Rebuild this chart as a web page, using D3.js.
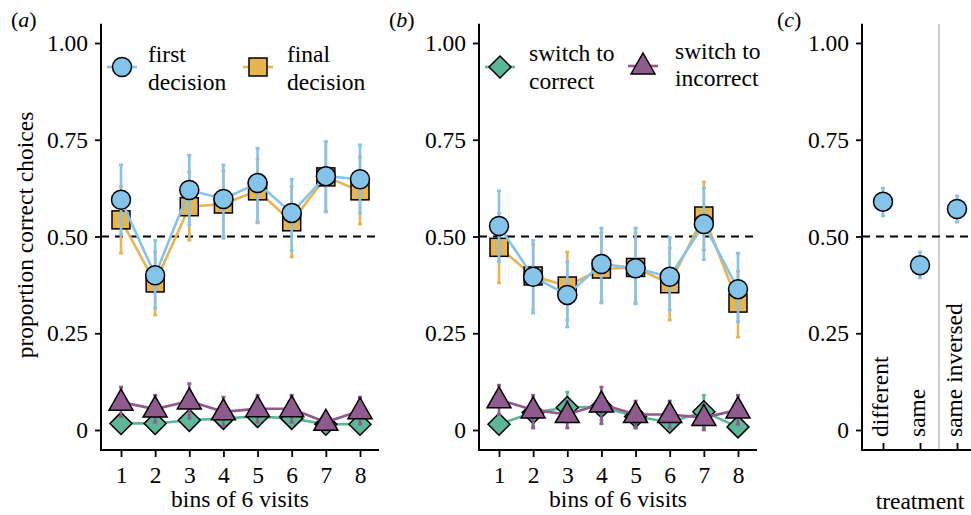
<!DOCTYPE html>
<html><head><meta charset="utf-8">
<script src="https://cdn.jsdelivr.net/npm/d3@7"></script>
<style>body{margin:0;background:#fff}svg{display:block}</style>
</head><body>
<svg id="chart" width="971" height="515"></svg>
<script>
// ---------- data ----------
const bins = [1,2,3,4,5,6,7,8];
const yTicks = [0,0.25,0.5,0.75,1];
const yTickLabels = ["0","0.25","0.50","0.75","1.00"];

const aFirst   = [0.595,0.400,0.620,0.597,0.638,0.561,0.656,0.648];
const aFirstLo = [0.505,0.315,0.530,0.495,0.538,0.463,0.565,0.560];
const aFirstHi = [0.685,0.490,0.710,0.685,0.728,0.648,0.745,0.737];
const aFinal   = [0.543,0.380,0.577,0.584,0.618,0.538,0.654,0.618];
const aFinalLo = [0.457,0.297,0.490,0.500,0.535,0.447,0.563,0.532];
const aFinalHi = [0.630,0.460,0.667,0.670,0.700,0.630,0.745,0.705];
const aToCorrect   = [0.017,0.017,0.025,0.030,0.035,0.030,0.015,0.015];
const aToCorrectLo = [0.000,0.000,0.005,0.010,0.010,0.010,0.000,0.000];
const aToCorrectHi = [0.035,0.035,0.045,0.050,0.060,0.050,0.030,0.030];
const aToIncorrect   = [0.072,0.054,0.075,0.047,0.055,0.055,0.020,0.050];
const aToIncorrectLo = [0.035,0.020,0.030,0.010,0.020,0.020,0.000,0.015];
const aToIncorrectHi = [0.111,0.090,0.120,0.085,0.090,0.090,0.040,0.085];

const bFirst   = [0.527,0.396,0.349,0.429,0.418,0.396,0.532,0.364];
const bFirstLo = [0.435,0.302,0.266,0.331,0.326,0.310,0.440,0.280];
const bFirstHi = [0.618,0.490,0.435,0.522,0.522,0.498,0.626,0.457];
const bFinal   = [0.472,0.398,0.372,0.416,0.420,0.378,0.553,0.328];
const bFinalLo = [0.380,0.310,0.284,0.328,0.330,0.284,0.465,0.240];
const bFinalHi = [0.560,0.480,0.460,0.510,0.510,0.470,0.641,0.410];
const bToCorrect   = [0.015,0.045,0.058,0.060,0.035,0.020,0.047,0.008];
const bToCorrectLo = [0.000,0.010,0.020,0.025,0.005,0.000,0.005,0.000];
const bToCorrectHi = [0.035,0.080,0.098,0.095,0.065,0.040,0.090,0.025];
const bToIncorrect   = [0.078,0.052,0.040,0.067,0.040,0.040,0.032,0.052];
const bToIncorrectLo = [0.040,0.005,0.005,0.016,0.005,0.005,0.000,0.015];
const bToIncorrectHi = [0.116,0.090,0.075,0.111,0.075,0.075,0.065,0.090];

const treatments = ["different","same","same inversed"];
const cMean = [0.590,0.426,0.571];
const cLo   = [0.553,0.393,0.537];
const cHi   = [0.625,0.460,0.605];

// ---------- styles ----------
const COL = {blue:"#85C4EA", orange:"#E8B450", green:"#5BB795", purple:"#8F5A8E"};
const FS = 23.5;

const svg = d3.select("#chart");
const y = d3.scaleLinear().domain([0,1]).range([430,43]);
const yTop = y(1.05), yBot = 450;

function txt(sel){ return sel.style("font-family",'"Liberation Serif"').style("font-size",FS+"px").attr("fill","#000"); }

function drawYAxis(x0){
  const g = svg.append("g").attr("transform",`translate(${x0},0)`);
  const ax = d3.axisLeft(y).tickValues(yTicks).tickFormat((d,i)=>yTickLabels[i]).tickSize(6).tickPadding(7);
  g.call(ax).attr("font-family",null).attr("font-size",null);
  g.select(".domain").remove();
  g.selectAll(".tick line").attr("stroke","#000").attr("stroke-width",1.8);
  txt(g.selectAll(".tick text"));
  g.append("line").attr("x1",0).attr("x2",0).attr("y1",yTop).attr("y2",yBot+1).attr("stroke","#000").attr("stroke-width",2);
}

function marker(sel, shape, color){
  if(shape==="circle"){
    sel.append("circle").attr("r",9.5).attr("fill",color).attr("stroke","#000").attr("stroke-width",1.5);
  } else if(shape==="square"){
    sel.append("rect").attr("x",-9).attr("y",-9).attr("width",18).attr("height",18).attr("fill",color).attr("stroke","#000").attr("stroke-width",1.5);
  } else if(shape==="diamond"){
    sel.append("path").attr("d","M0,-11L11,0L0,11L-11,0Z").attr("fill",color).attr("stroke","#000").attr("stroke-width",1.5);
  } else {
    sel.append("path").attr("d","M0,-13L12,8L-12,8Z").attr("fill",color).attr("stroke","#000").attr("stroke-width",1.5);
  }
}

function errBar(g, xp, lo, hi, color){
  g.append("line").attr("x1",xp).attr("x2",xp).attr("y1",y(lo)).attr("y2",y(hi))
    .attr("stroke",color).attr("stroke-width",2.6);
  [lo,hi].forEach(v=>g.append("line").attr("x1",xp-2).attr("x2",xp+2).attr("y1",y(v)).attr("y2",y(v))
    .attr("stroke",color).attr("stroke-width",2.6));
}

function drawSeries(x, xs, mean, lo, hi, color, shape){
  const g = svg.append("g");
  xs.forEach((b,i)=> errBar(g, x(b), lo[i], hi[i], color));
  const line = d3.line().x((d,i)=>x(xs[i])).y(d=>y(d));
  g.append("path").attr("d",line(mean)).attr("fill","none").attr("stroke",color).attr("stroke-width",2.6);
  xs.forEach((b,i)=>{
    const m = g.append("g").attr("transform",`translate(${x(b)},${y(mean[i])})`);
    marker(m, shape, color);
  });
}

function legendItem(x, yy, shape, color, lines, textX, y1, y2){
  const g = svg.append("g");
  g.append("line").attr("x1",x-15).attr("x2",x+15).attr("y1",yy).attr("y2",yy).attr("stroke",color).attr("stroke-width",2.6);
  const m = g.append("g").attr("transform",`translate(${x},${yy})`);
  marker(m, shape, color);
  txt(g.append("text").attr("x",textX).attr("y",y1).text(lines[0]));
  txt(g.append("text").attr("x",textX).attr("y",y2).text(lines[1]));
}

function binPanel(x0, xEnd, firstX, lastX, data, xTitleX){
  const x = d3.scaleLinear().domain([1,8]).range([firstX,lastX]);
  svg.append("line").attr("x1",x0).attr("x2",xEnd).attr("y1",y(0.5)).attr("y2",y(0.5))
    .attr("stroke","#000").attr("stroke-width",2).attr("stroke-dasharray","8,6");
  drawYAxis(x0);
  const gx = svg.append("g").attr("transform",`translate(0,${yBot})`);
  gx.call(d3.axisBottom(x).tickValues(bins).tickFormat(d3.format("d")).tickSize(7).tickPadding(9));
  gx.attr("font-family",null).attr("font-size",null);
  gx.select(".domain").remove();
  gx.selectAll(".tick line").attr("stroke","#000").attr("stroke-width",1.8);
  txt(gx.selectAll(".tick text"));
  svg.append("line").attr("x1",x0-1).attr("x2",xEnd).attr("y1",yBot).attr("y2",yBot).attr("stroke","#000").attr("stroke-width",2);
  txt(svg.append("text").attr("x",xTitleX).attr("y",507).attr("text-anchor","middle").text("bins of 6 visits"));
  drawSeries(x, bins, data.toC, data.toCLo, data.toCHi, COL.green, "diamond");
  drawSeries(x, bins, data.toI, data.toILo, data.toIHi, COL.purple, "triangle");
  drawSeries(x, bins, data.fin, data.finLo, data.finHi, COL.orange, "square");
  drawSeries(x, bins, data.first, data.firstLo, data.firstHi, COL.blue, "circle");
}

binPanel(101, 379, 121, 360, {
  first:aFirst, firstLo:aFirstLo, firstHi:aFirstHi,
  fin:aFinal, finLo:aFinalLo, finHi:aFinalHi,
  toC:aToCorrect, toCLo:aToCorrectLo, toCHi:aToCorrectHi,
  toI:aToIncorrect, toILo:aToIncorrectLo, toIHi:aToIncorrectHi
}, 240);

binPanel(479, 757, 499, 738, {
  first:bFirst, firstLo:bFirstLo, firstHi:bFirstHi,
  fin:bFinal, finLo:bFinalLo, finHi:bFinalHi,
  toC:bToCorrect, toCLo:bToCorrectLo, toCHi:bToCorrectHi,
  toI:bToIncorrect, toILo:bToIncorrectLo, toIHi:bToIncorrectHi
}, 618);

legendItem(122, 67, "circle", COL.blue, ["first","decision"], 148, 62, 90);
legendItem(258, 67, "square", COL.orange, ["final","decision"], 287, 62, 90);
legendItem(500, 67, "diamond", COL.green, ["switch to","correct"], 529, 61, 89);
legendItem(643, 66, "triangle", COL.purple, ["switch to","incorrect"], 675, 59, 86);

// ---------- panel c ----------
const xc = d3.scalePoint().domain(treatments).range([883,957]);
svg.append("line").attr("x1",939).attr("x2",939).attr("y1",yTop).attr("y2",yBot)
  .attr("stroke","#d0d0d0").attr("stroke-width",2);
svg.append("line").attr("x1",862).attr("x2",971).attr("y1",y(0.5)).attr("y2",y(0.5))
  .attr("stroke","#000").attr("stroke-width",2).attr("stroke-dasharray","8,6");
drawYAxis(862);
svg.append("line").attr("x1",861).attr("x2",971).attr("y1",yBot).attr("y2",yBot).attr("stroke","#000").attr("stroke-width",2);
const gxc = svg.append("g").attr("transform",`translate(0,${yBot})`);
gxc.call(d3.axisTop(xc).tickSize(7).tickFormat(""));
gxc.select(".domain").remove();
gxc.selectAll(".tick line").attr("stroke","#000").attr("stroke-width",1.8);
treatments.forEach(t=>{
  txt(svg.append("text").attr("transform",`translate(${xc(t)+5},437) rotate(-90)`)
    .attr("text-anchor","start").text(t));
});
const gc = svg.append("g");
treatments.forEach((t,i)=>{
  errBar(gc, xc(t), cLo[i], cHi[i], COL.blue);
  const m = gc.append("g").attr("transform",`translate(${xc(t)},${y(cMean[i])})`);
  marker(m,"circle",COL.blue);
});
txt(svg.append("text").attr("x",920).attr("y",509).attr("text-anchor","middle").text("treatment"));

txt(svg.append("text").attr("transform","translate(33,235) rotate(-90)").attr("text-anchor","middle")
  .text("proportion correct choices"));

function panelLabel(x, letter){
  const t = svg.append("text").attr("x",x).attr("y",27)
    .style("font-family",'"Liberation Serif"').style("font-size","22px");
  t.append("tspan").text("(");
  t.append("tspan").style("font-style","italic").text(letter);
  t.append("tspan").text(")");
}
panelLabel(11,"a"); panelLabel(389,"b"); panelLabel(777,"c");
</script>
</body></html>
